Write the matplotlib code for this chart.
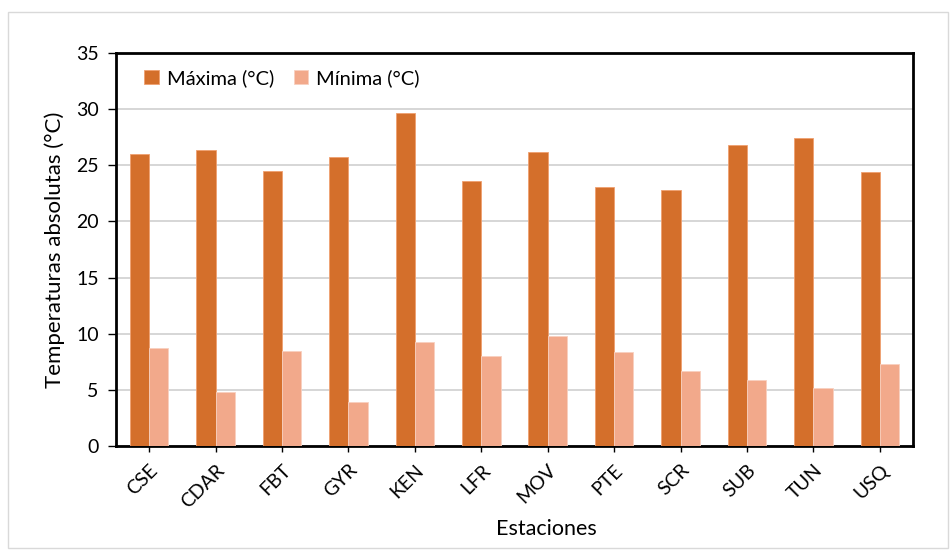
import numpy as np
import matplotlib
matplotlib.use("Agg")
import matplotlib.pyplot as plt
from matplotlib.patches import Rectangle

# Data
estaciones = ['CSE', 'CDAR', 'FBT', 'GYR', 'KEN', 'LFR', 'MOV', 'PTE', 'SCR', 'SUB', 'TUN', 'USQ']
maxima = [26.0, 26.4, 24.5, 25.7, 29.7, 23.6, 26.2, 23.1, 22.8, 26.8, 27.4, 24.4]
minima = [8.7, 4.8, 8.5, 3.9, 9.3, 8.0, 9.8, 8.4, 6.7, 5.9, 5.2, 7.3]

color_max = '#D46F2B'
color_min = '#F2A98B'

plt.rcParams['font.family'] = ['Lato', 'DejaVu Sans']

fig = plt.figure(figsize=(9.5, 5.5), dpi=100)
ax = fig.add_axes([0.1221, 0.189, 0.839, 0.7146])

# light grey frame around the whole chart
fig.patches.append(Rectangle((0.008, 0.004), 0.99, 0.974, transform=fig.transFigure,
                             fill=False, edgecolor='#D9D9D9', linewidth=1))

x = np.arange(len(estaciones))
w = 0.29
ax.bar(x - w / 2, maxima, w, color=color_max, edgecolor='#F0A070', linewidth=0.6,
       label='Máxima (°C)', zorder=3)
ax.bar(x + w / 2, minima, w, color=color_min, edgecolor='#F8D0C0', linewidth=0.6,
       label='Mínima (°C)', zorder=3)

ax.set_xlim(-0.5, len(estaciones) - 0.5)
ax.set_ylim(0, 35)
ax.set_yticks(np.arange(0, 36, 5))
ax.yaxis.grid(True, color='#D0D0D0', linewidth=1.2, zorder=0)
ax.set_axisbelow(True)

ax.set_xticks(x)
ax.set_xticklabels(estaciones, rotation=45, ha='right', rotation_mode='anchor', fontsize=14)
ax.tick_params(axis='y', labelsize=14, length=5.5, width=1, direction='out', pad=7)
ax.tick_params(axis='x', length=4, width=1, direction='out', pad=7)

for s in ax.spines.values():
    s.set_linewidth(2)
    s.set_color('black')

ax.set_ylabel('Temperaturas absolutas (°C)', fontsize=16, labelpad=8)
ax.set_xlabel('Estaciones', fontsize=15.5, labelpad=6, x=0.54)

ax.legend(loc='upper left', ncol=2, frameon=False, fontsize=14.5, handlelength=0.7,
          handleheight=0.7, handletextpad=0.4, columnspacing=1.0,
          bbox_to_anchor=(0.013, 1.005))

fig.savefig('out.png', dpi=100)
